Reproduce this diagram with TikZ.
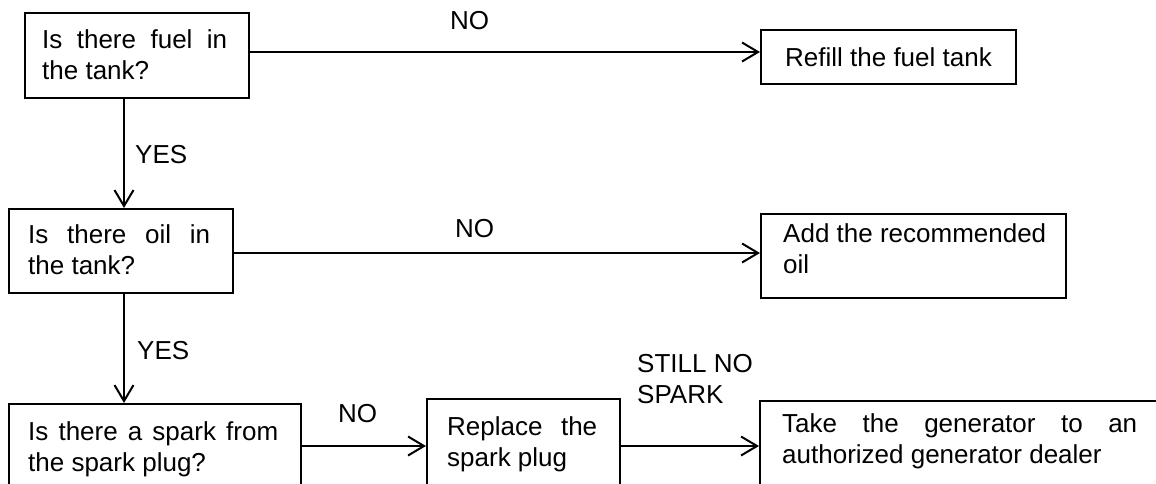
\documentclass[tikz,border=0pt]{standalone}
\usepackage{fontspec}
\setmainfont{Liberation Sans}
\usetikzlibrary{arrows.meta}
\newcommand\myfs{\fontsize{26}{31.5}\selectfont}
\newcommand\firstline{\rule{0pt}{20pt}}
\begin{document}
\begin{tikzpicture}[x=1pt,y=-1pt,
  box/.style={draw, line width=2pt, inner sep=0pt, anchor=north west, font=\myfs},
  txt/.style={inner sep=0pt, anchor=north west, align=left, font=\myfs},
  lbl/.style={inner sep=0pt, anchor=base west, font=\myfs},
  arr/.style={line width=2pt, -{Straight Barb[length=16pt,width=19pt,line width=2pt]}}]
\useasboundingbox (0,0) rectangle (1156,483);
\clip (0,0) rectangle (1156,483);
% boxes
\node[box, minimum width=224pt, minimum height=85pt] (b1) at (24,12) {};
\node[box, minimum width=255pt, minimum height=54pt] (refill) at (760,29) {Refill the fuel tank};
\node[box, minimum width=224pt, minimum height=84pt] (b2) at (8,208) {};
\node[box, minimum width=305pt, minimum height=84pt] (add) at (760,213) {};
\node[box, minimum width=292pt, minimum height=100pt] (b3) at (8,403) {};
\node[box, minimum width=193pt, minimum height=100pt] (rep) at (426,398) {};
\node[box, minimum width=420pt, minimum height=100pt] (take) at (759,400) {};
% texts
\node[txt] (t1) at (42,28) {\firstline\makebox[185pt][s]{Is there fuel in}\\the tank?};
\node[txt] (t2) at (28,223) {\firstline\makebox[182pt][s]{Is there oil in}\\the tank?};
\node[txt] (tadd) at (783,222) {\firstline Add the recommended\\oil};
\node[txt] (t3) at (28,420) {\firstline\makebox[250pt][s]{Is there a spark from}\\the spark plug?};
\node[txt] (trep) at (447,415) {\firstline\makebox[150pt][s]{Replace the}\\spark plug};
\node[txt] (ttake) at (782,412) {\firstline\makebox[355pt][s]{Take the generator to an}\\authorized generator dealer};
% helper coordinates
\coordinate (ya) at (0,52);
\coordinate (yb) at (0,253);
\coordinate (yc) at (0,446);
\coordinate (xv) at (124,0);
% connectors
\draw[arr] (b1.east |- ya) -- (refill.west |- ya);
\draw[arr] (b2.east |- yb) -- (add.west |- yb);
\draw[arr] (b3.east |- yc) -- (rep.west |- yc);
\draw[arr] (rep.east |- yc) -- (take.west |- yc);
\draw[arr] (b1.south -| xv) -- (b2.north -| xv);
\draw[arr] (b2.south -| xv) -- (b3.north -| xv);
% labels
\node[lbl] (no1) at (450,29) {NO};
\node[lbl] (yes1) at (135,163) {YES};
\node[lbl] (no2) at (455,237) {NO};
\node[lbl] (yes2) at (137,359) {YES};
\node[lbl] (no3) at (338,422) {NO};
\node[txt] (still) at (637,352) {\firstline STILL NO\\SPARK};
\end{tikzpicture}
\end{document}
